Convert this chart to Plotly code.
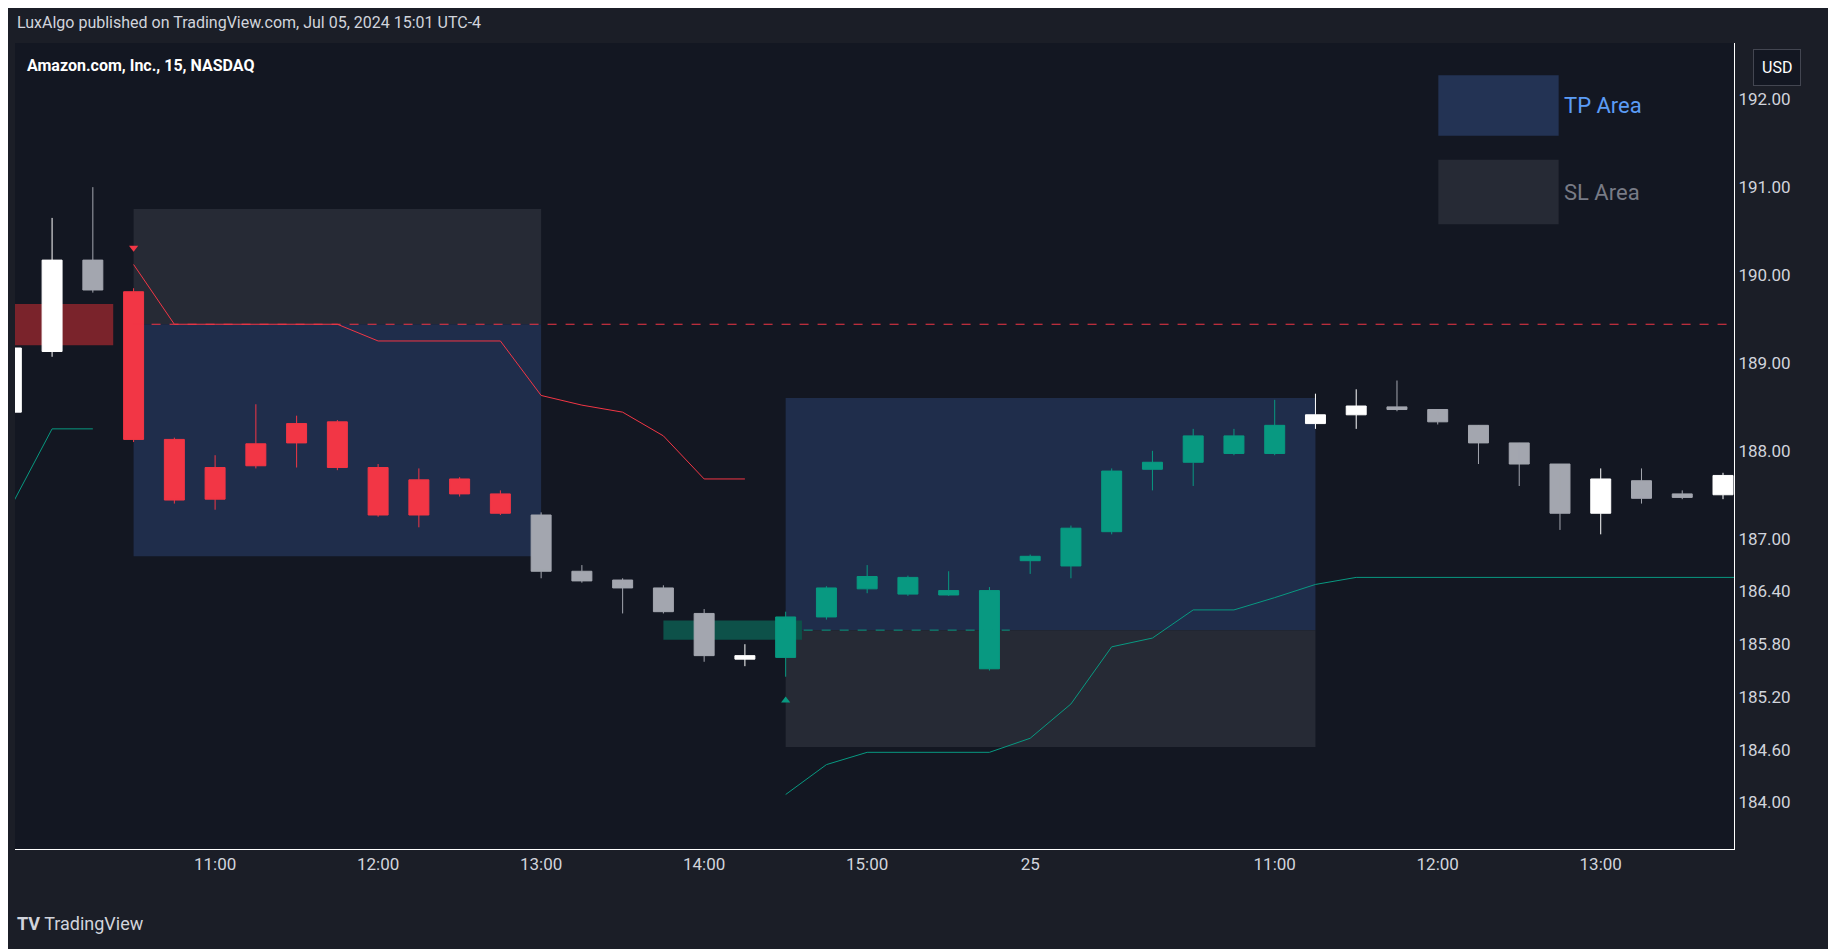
import plotly.graph_objects as go

bar_idx = list(range(-5, 38))
opens  = [188.44,189.13,190.17,189.81,188.13,187.81,188.08,188.31,188.33,187.81,187.67,187.68,187.51,187.27,186.63,186.53,186.44,186.15,185.63,185.65,186.11,186.43,186.56,186.41,186.41,186.75,186.69,187.08,187.79,187.87,187.97,187.97,188.31,188.41,188.50,188.47,188.29,188.09,187.85,187.29,187.66,187.51,187.50]
closes = [189.17,190.17,189.83,188.13,187.44,187.45,187.83,188.09,187.81,187.27,187.27,187.51,187.29,186.63,186.52,186.44,186.17,185.67,185.67,186.11,186.44,186.57,186.37,186.36,185.52,186.80,187.12,187.77,187.87,188.17,188.17,188.29,188.41,188.51,188.47,188.33,188.09,187.85,187.29,187.68,187.46,187.47,187.72]
highs  = [189.25,190.65,191.00,189.85,188.15,187.95,188.53,188.40,188.35,187.85,187.80,187.70,187.55,187.30,186.70,186.55,186.47,186.20,185.80,186.17,186.46,186.70,186.58,186.63,186.45,186.82,187.15,187.80,188.00,188.25,188.25,188.58,188.65,188.70,188.80,188.40,188.12,187.88,187.40,187.80,187.80,187.55,187.75]
lows   = [188.40,189.07,189.80,188.10,187.40,187.33,187.80,187.81,187.78,187.25,187.13,187.48,187.27,186.55,186.50,186.15,186.15,185.60,185.55,185.43,186.08,186.38,186.35,186.35,185.50,186.60,186.55,187.05,187.55,187.60,187.95,187.95,188.25,188.25,188.45,188.30,187.85,187.60,187.10,187.05,187.40,187.45,187.45]
colors = ["w","w","g","r","r","r","r","r","r","r","r","r","r","g","g","g","g","g","w","t","t","t","t","t","t","t","t","t","t","t","t","t","w","w","g","g","g","g","g","w","g","g","w"]

red_trail_x = [-2,-1,0,1,2,3,4,5,6,7,8,9,10,11,12,13]
red_trail_y = [190.12,189.44,189.44,189.44,189.44,189.44,189.25,189.25,189.25,189.25,188.63,188.52,188.44,188.17,187.68,187.68]
teal_trail1_x = [-5.05,-4,-3]
teal_trail1_y = [187.33,188.25,188.25]
teal_trail2_x = [14,15,16,17,18,19,20,21,22,23,24,25,26,27,28,37.3]
teal_trail2_y = [184.09,184.43,184.57,184.57,184.57,184.57,184.73,185.12,185.77,185.87,186.19,186.19,186.33,186.48,186.56,186.56]

tick_vals = [0,4,8,12,16,20,26,30,34]
tick_text = ["11:00","12:00","13:00","14:00","15:00","25","11:00","12:00","13:00"]
y_ticks = [184.0,184.6,185.2,185.8,186.4,187.0,188.0,189.0,190.0,191.0,192.0]

cmap = {"r":"#f23645","t":"#089981","g":"#a3a6af","w":"#ffffff"}
fig = go.Figure()

def rect(x0,x1,y0,y1,c):
    fig.add_shape(type="rect",x0=x0,x1=x1,y0=y0,y1=y1,fillcolor=c,line_width=0,layer="below")
rect(-2,8,189.44,190.75,"#262a35")
rect(-2,8,186.80,189.44,"#1f2d4b")
rect(14,27,185.96,188.60,"#1f2d4b")
rect(14,27,184.63,185.96,"#262a35")
rect(-5.2,-2.5,189.20,189.67,"#7a232b")
rect(11,14.4,185.85,186.07,"#0d5149")
fig.add_shape(type="line",x0=-2,x1=37.3,y0=189.44,y1=189.44,line=dict(color="#f23645",width=1,dash="dash"))
fig.add_shape(type="line",x0=14,x1=19.5,y0=185.96,y1=185.96,line=dict(color="#089981",width=1,dash="dash"))

for key in ["r","t","g","w"]:
    idx=[i for i,c in enumerate(colors) if c==key]
    col=cmap[key]
    fig.add_trace(go.Candlestick(x=[bar_idx[i] for i in idx],open=[opens[i] for i in idx],high=[highs[i] for i in idx],
        low=[lows[i] for i in idx],close=[closes[i] for i in idx],
        increasing=dict(line=dict(color=col,width=1),fillcolor=col),
        decreasing=dict(line=dict(color=col,width=1),fillcolor=col),whiskerwidth=0,showlegend=False,hoverinfo="skip"))

fig.add_trace(go.Scatter(x=red_trail_x,y=red_trail_y,mode="lines",line=dict(color="#f23645",width=1),showlegend=False))
fig.add_trace(go.Scatter(x=teal_trail1_x,y=teal_trail1_y,mode="lines",line=dict(color="#089981",width=1),showlegend=False))
fig.add_trace(go.Scatter(x=teal_trail2_x,y=teal_trail2_y,mode="lines",line=dict(color="#089981",width=1),showlegend=False))
fig.add_trace(go.Scatter(x=[-2],y=[190.31],mode="markers",marker=dict(symbol="triangle-down",color="#f23645",size=8),showlegend=False))
fig.add_trace(go.Scatter(x=[14],y=[185.16],mode="markers",marker=dict(symbol="triangle-up",color="#089981",size=8),showlegend=False))

fig.update_layout(
    width=1836,height=949,paper_bgcolor="#1b1e27",plot_bgcolor="#131722",
    margin=dict(l=7,r=110,t=35,b=108),font=dict(family="Roboto",color="#d1d4dc",size=16),
    xaxis=dict(range=[-4.91,37.27],tickvals=tick_vals,ticktext=tick_text,showgrid=False,zeroline=False,
               rangeslider=dict(visible=False),showline=True,linecolor="#ffffff",ticks="",tickfont=dict(color="#d1d4dc",size=17)),
    yaxis=dict(range=[183.47,192.64],side="right",tickvals=y_ticks,ticktext=[f"{v:.2f}" for v in y_ticks],showgrid=False,zeroline=False,
               showline=True,linecolor="#ffffff",mirror=False,tickfont=dict(color="#d1d4dc",size=17)),
)
fig.add_annotation(xref="paper",yref="paper",x=0.0,y=1.025,xanchor="left",yanchor="middle",showarrow=False,
    text="LuxAlgo published on TradingView.com, Jul 05, 2024 15:01 UTC-4",font=dict(size=16,color="#d1d4dc"))
fig.add_annotation(xref="paper",yref="paper",x=0.006,y=0.972,xanchor="left",yanchor="middle",showarrow=False,
    text="<b>Amazon.com, Inc., 15, NASDAQ</b>",font=dict(size=16,color="#ffffff"))
fig.add_annotation(xref="paper",yref="paper",x=0.0,y=-0.092,xanchor="left",yanchor="middle",showarrow=False,
    text="<b>TV</b> TradingView",font=dict(size=18,color="#d1d4dc"))
fig.add_annotation(xref="paper",yref="paper",x=1.025,y=0.97,xanchor="center",yanchor="middle",showarrow=False,
    text="USD",font=dict(size=16,color="#ffffff"),bordercolor="#434651",borderwidth=1,borderpad=8,bgcolor="#131722")
fig.add_shape(type="rect",xref="paper",yref="paper",x0=0.828,x1=0.898,y0=0.885,y1=0.96,fillcolor="#233354",line_width=0)
fig.add_shape(type="rect",xref="paper",yref="paper",x0=0.828,x1=0.898,y0=0.775,y1=0.855,fillcolor="#262a35",line_width=0)
fig.add_annotation(xref="paper",yref="paper",x=0.9,y=0.922,xanchor="left",yanchor="middle",showarrow=False,text="TP Area",font=dict(size=22,color="#5b9cf6"))
fig.add_annotation(xref="paper",yref="paper",x=0.9,y=0.815,xanchor="left",yanchor="middle",showarrow=False,text="SL Area",font=dict(size=22,color="#787b86"))
fig.write_html("out.html")
